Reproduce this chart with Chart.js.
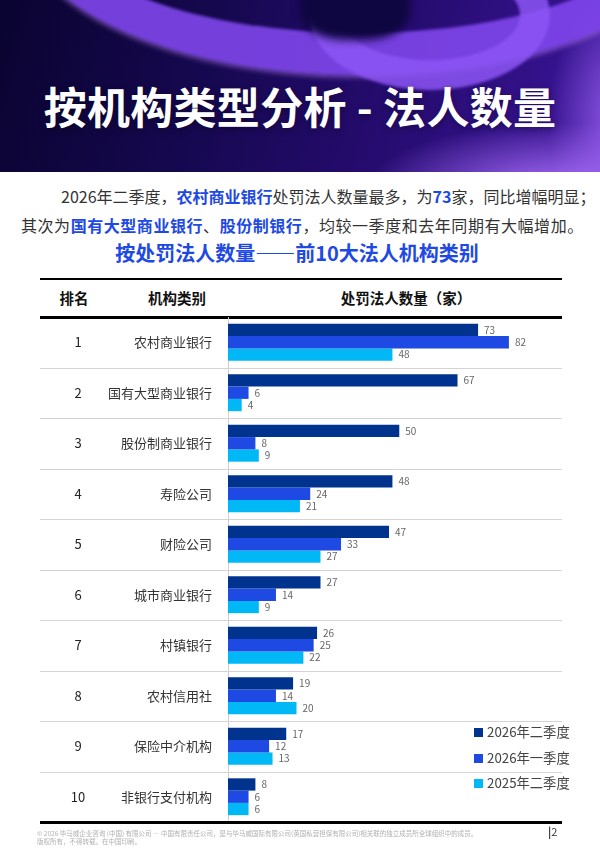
<!DOCTYPE html>
<html lang="zh-CN">
<head>
<meta charset="utf-8">
<script src="https://cdn.jsdelivr.net/npm/chart.js@4.4.1/dist/chart.umd.min.js"></script>
<style>
  body { margin: 0; background: #fff; font-family: "Noto Sans CJK SC", "Noto Sans", sans-serif; }
  #page { position: relative; width: 600px; height: 867px; overflow: hidden; }
  #header {
    position: absolute; left: 0; top: 0; width: 600px; height: 172px; overflow: hidden;
    background:
      radial-gradient(ellipse 260px 90px at 560px 190px, rgba(175,115,255,0.95), rgba(120,60,230,0) 75%),
      radial-gradient(ellipse 90px 160px at 620px 120px, rgba(170,110,255,0.8), rgba(120,60,230,0) 80%),
      linear-gradient(105deg, #0a0430 0%, #160850 35%, #240b6c 62%, #3b159a 100%);
  }
  .ring {
    position: absolute; box-sizing: border-box; left: 20px; top: -235px; width: 680px; height: 310px; border-radius: 50%;
    border: 42px solid rgba(128,70,235,0.9); filter: blur(1.5px);
    box-shadow: 0 3px 4px rgba(200,140,255,0.45);
  }
  .ring2 {
    position: absolute; box-sizing: border-box; left: 310px; top: -60px; width: 240px; height: 150px; border-radius: 50%;
    border: 30px solid rgba(140,85,245,0.85); filter: blur(1.5px);
  }
  .hole {
    position: absolute; left: 300px; top: -30px; width: 110px; height: 70px; border-radius: 40%;
    background: #0e0640; filter: blur(4px);
  }
  #header h1 {
    position: absolute; left: 0; top: 77px; width: 600px; margin: 0; text-align: center;
    color: #fff; font-size: 43px; font-weight: 700; line-height: 56px; letter-spacing: 0.3px;
    text-shadow: 0 2px 6px rgba(0,0,0,0.35);
  }
  .para { position: absolute; font-size: 16px; color: #333; white-space: nowrap; line-height: 20px; }
  .para b { color: #1e49e2; }
  #subtitle {
    position: absolute; left: 0; top: 240px; width: 594px; text-align: center;
    color: #1e49e2; font-size: 20px; font-weight: 700; line-height: 26px;
  }
  .rule { position: absolute; left: 40px; width: 522px; background: #000; }
  .th { position: absolute; top: 288px; font-size: 14.5px; font-weight: 700; color: #111; line-height: 20px; text-align: center; }
  #chartBox { position: absolute; left: 40px; top: 317px; width: 522px; height: 505px; }
  #legend { position: absolute; left: 474px; top: 722px; }
  .item { position: absolute; left: 0; height: 20px; white-space: nowrap; font-size: 13.3px; color: #444; line-height: 20px; }
  .item i { display: inline-block; width: 9px; height: 9px; margin-right: 4px; vertical-align: 0px; }
  .foot { position: absolute; left: 37px; font-size: 6.5px; color: #b0b0b0; white-space: nowrap; line-height: 8px; }
  #pageNo { position: absolute; left: 548px; top: 824px; font-size: 11px; color: #333; line-height: 14px; }
</style>
</head>
<body>
<div id="page">
  <div id="header">
    <div class="ring"></div>
    <div class="ring2"></div>
    <div class="hole"></div>
    <h1>按机构类型分析 - 法人数量</h1>
  </div>

  <div class="para" style="left:61px; top:186px;">2026年二季度，<b>农村商业银行</b>处罚法人数量最多，为<b>73</b>家，同比增幅明显；</div>
  <div class="para" style="left:21px; top:215px; letter-spacing:0.55px;">其次为<b>国有大型商业银行</b>、<b>股份制银行</b>，均较一季度和去年同期有大幅增加。</div>

  <div id="subtitle">按处罚法人数量——前10大法人机构类别</div>

  <div class="rule" style="top:278px; height:1.5px;"></div>
  <div class="th" style="left:54px; width:40px;">排名</div>
  <div class="th" style="left:137px; width:80px;">机构类别</div>
  <div class="th" style="left:326px; width:160px;">处罚法人数量（家）</div>
  <div class="rule" style="top:316px; height:2.5px;"></div>

  <div id="chartBox"><canvas id="myChart"></canvas></div>
  <div class="rule" style="top:821px; height:2.5px;"></div>

  <div id="legend"></div>

  <div class="foot" style="top:829px;">© 2026 毕马威企业咨询 (中国) 有限公司 — 中国有限责任公司，是与毕马威国际有限公司(英国私营担保有限公司)相关联的独立成员所全球组织中的成员。</div>
  <div class="foot" style="top:837px;">版权所有，不得转载。在中国印刷。</div>
  <div id="pageNo"><b>|</b>2</div>
</div>

<script>
// 前10大法人机构类别
const ranks = ["1", "2", "3", "4", "5", "6", "7", "8", "9", "10"];
const categories = ["农村商业银行", "国有大型商业银行", "股份制商业银行", "寿险公司", "财险公司",
  "城市商业银行", "村镇银行", "农村信用社", "保险中介机构", "非银行支付机构"];

const seriesNames = ["2026年二季度", "2026年一季度", "2025年二季度"];
const q2_2026 = [73, 67, 50, 48, 47, 27, 26, 19, 17, 8];
const q1_2026 = [82, 6, 8, 24, 33, 14, 25, 14, 12, 6];
const q2_2025 = [48, 4, 9, 21, 27, 9, 22, 20, 13, 6];

const colors = ["#00338d", "#1e49e2", "#00b8f5"];
const fontCJK = '"Noto Sans CJK SC", "Noto Sans", sans-serif';

// 行分隔线 + 排名
const tableRows = {
	id: "tableRows",
	beforeDatasetsDraw(chart) {
		const c = chart.ctx;
		const y = chart.scales.y;
		c.save();
		c.strokeStyle = "#d4d4d4";
		c.lineWidth = 1;
		for (let i = 1; i < categories.length; i++) {
			const py = Math.round((y.getPixelForValue(i - 1) + y.getPixelForValue(i)) / 2) + 0.5;
			c.beginPath();
			c.moveTo(0, py);
			c.lineTo(chart.width, py);
			c.stroke();
		}
		c.fillStyle = "#222";
		c.font = "13px " + fontCJK;
		c.textAlign = "center";
		c.textBaseline = "middle";
		ranks.forEach((r, i) => {
			c.fillText(r, 38, y.getPixelForValue(i));
		});
		c.restore();
	},
};

// 数值标签
const valueLabels = {
	id: "valueLabels",
	afterDatasetsDraw(chart) {
		const c = chart.ctx;
		c.save();
		c.fillStyle = "#666";
		c.font = "10px " + fontCJK;
		c.textAlign = "left";
		c.textBaseline = "middle";
		chart.data.datasets.forEach((ds, di) => {
			chart.getDatasetMeta(di).data.forEach((bar, i) => {
				c.fillText(ds.data[i], bar.x + 6, bar.y);
			});
		});
		c.restore();
	},
};

const ctx = document.getElementById("myChart");

let grafico = new Chart(ctx, {
	type: "bar",
	data: {
		labels: categories,
		datasets: [
			{ label: seriesNames[0], data: q2_2026, backgroundColor: colors[0] },
			{ label: seriesNames[1], data: q1_2026, backgroundColor: colors[1] },
			{ label: seriesNames[2], data: q2_2025, backgroundColor: colors[2] },
		],
	},
	options: {
		indexAxis: "y",
		responsive: true,
		maintainAspectRatio: false,
		animation: false,
		layout: { padding: 0 },
		datasets: {
			bar: { barPercentage: 1, categoryPercentage: 0.73, borderWidth: 0 },
		},
		scales: {
			x: {
				display: false,
				min: 0,
				max: 97.5,
			},
			y: {
				offset: true,
				grid: { display: false, drawTicks: false },
				border: { display: true, color: "#cfcfcf", width: 1 },
				ticks: {
					color: "#333",
					padding: 16,
					font: { size: 13, family: fontCJK },
				},
				afterFit(scale) {
					scale.width = 188;
					// 表格行要铺满上下两条粗线之间
					scale.paddingTop = 0;
					scale.paddingBottom = 0;
				},
			},
		},
		plugins: {
			legend: { display: false },
			tooltip: { enabled: false },
		},
	},
	plugins: [tableRows, valueLabels],
});

// 图例
const legend = document.getElementById("legend");
seriesNames.forEach((name, i) => {
	const el = document.createElement("div");
	el.className = "item";
	el.style.top = (i * 25.5) + "px";
	el.innerHTML = '<i style="background:' + colors[i] + '"></i>' + name;
	legend.appendChild(el);
});
</script>
</body>
</html>
